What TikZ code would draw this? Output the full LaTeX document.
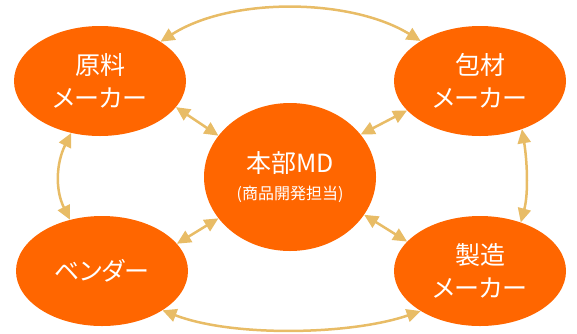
\documentclass[tikz,border=0pt]{standalone}
\usepackage{fontspec}
\setmainfont{Noto Sans CJK JP}[RawFeature={+palt}]
\usetikzlibrary{shapes.geometric}
\usetikzlibrary{arrows.meta}
\definecolor{bizorange}{RGB}{255,102,0}
\definecolor{linkgold}{RGB}{232,188,102}

\begin{document}
\begin{tikzpicture}[x=1pt, y=-1pt,
            party/.style = {ellipse, fill=bizorange, text=white, inner sep=0pt,
                minimum width=172pt, minimum height=110pt, align=center,
                font=\fontsize{25}{33}\selectfont},
            link/.style = {draw=linkgold, line width=2.5pt,
                {Triangle[length=14pt,width=13pt]}-{Triangle[length=14pt,width=13pt]}}]
            \useasboundingbox (0,0) rectangle (577,333);
            \node[party, minimum height=148pt] (md) at (290,177)
                {本部MD\\[-6pt]{\fontsize{16}{19}\selectfont (商品開発担当)}};
            \node[party] (genryo) at (100,81) {原料\\メーカー};
            \node[party] (hozai) at (480,81) {包材\\メーカー};
            \node[party] (vendor) at (102,271) {ベンダー};
            \node[party] (seizo) at (480,271) {製造\\メーカー};
            % spokes to the centre
            \draw[link] (genryo.-19) -- (md.150);
            \draw[link] (hozai.-158) -- (md.31);
            \draw[link] (vendor.20) -- (md.-150);
            \draw[link] (seizo.158) -- (md.-27);
            % ring round the outside
            \draw[link] (genryo.33) .. controls +(70,-45) and +(-70,-43) .. (hozai.146);
            \draw[link] (hozai.-49) .. controls +(5,30) and +(8,-30) .. (seizo.50);
            \draw[link] (vendor.-33) .. controls +(70,27) and +(-70,24) .. (seizo.-146);
            \draw[link] (genryo.-119) .. controls +(-15,30) and +(-15,-30) .. (vendor.122);
        \end{tikzpicture}
\end{document}
